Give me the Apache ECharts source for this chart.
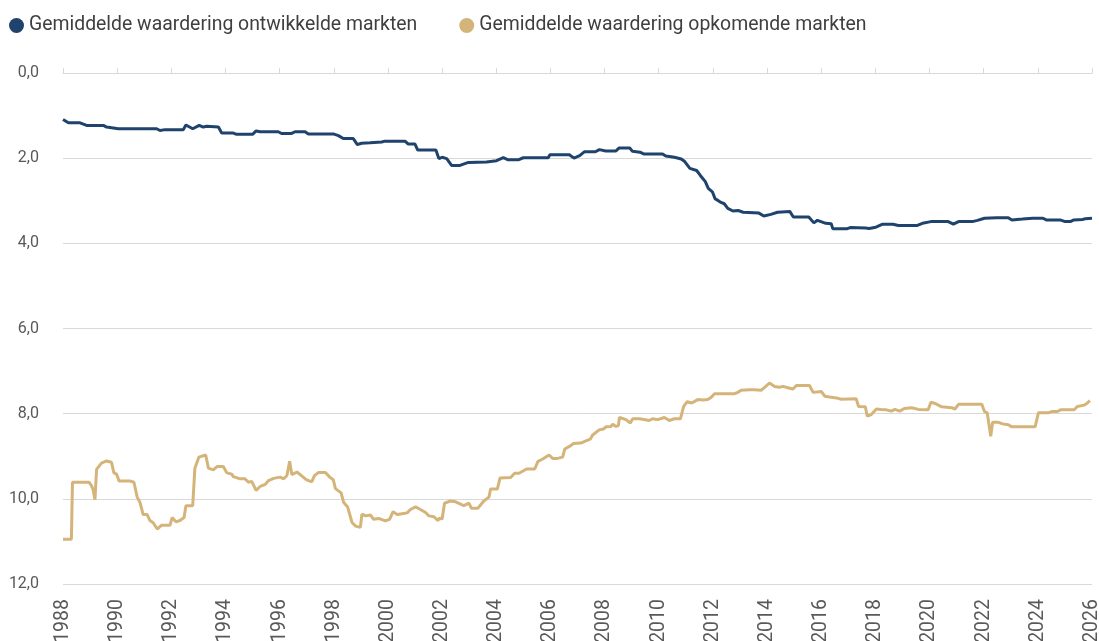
<!DOCTYPE html>
<html>
<head>
<meta charset="utf-8">
<script src="https://cdn.jsdelivr.net/npm/echarts@6/dist/echarts.min.js"></script>
<style>
  html, body { margin: 0; padding: 0; background: #fff; }
  #chart { width: 1099px; height: 641px; }
</style>
</head>
<body>
<div id="chart"></div>
<script>
const seriesNames = ['Gemiddelde waardering ontwikkelde markten', 'Gemiddelde waardering opkomende markten'];
const yTicks = [0, 2, 4, 6, 8, 10, 12];
const xTickYears = [1988, 1990, 1992, 1994, 1996, 1998, 2000, 2002, 2004, 2006, 2008, 2010, 2012, 2014, 2016, 2018, 2020, 2022, 2024, 2026];

const devYears = [1988.00,1988.20,1988.63,1988.87,1989.49,1989.61,1990.04,1991.46,1991.58,1991.77,1992.44,1992.54,1992.79,1993.03,1993.18,1993.31,1993.74,1993.86,1994.29,1994.41,1995.00,1995.13,1995.28,1995.95,1996.07,1996.44,1996.57,1996.94,1997.06,1997.98,1998.17,1998.35,1998.72,1998.87,1999.03,1999.34,1999.77,1999.89,2000.63,2000.75,2001.00,2001.10,2001.77,2001.88,2002.00,2002.17,2002.35,2002.66,2002.97,2003.64,2004.01,2004.26,2004.44,2004.81,2005.00,2005.92,2005.98,2006.38,2006.70,2006.87,2007.08,2007.25,2007.66,2007.81,2008.04,2008.42,2008.54,2008.93,2009.03,2009.31,2009.44,2009.94,2010.14,2010.26,2010.58,2010.83,2010.96,2011.15,2011.40,2011.53,2011.72,2011.83,2011.98,2012.08,2012.30,2012.42,2012.55,2012.74,2012.93,2013.12,2013.70,2013.88,2014.14,2014.39,2014.84,2014.97,2015.54,2015.73,2015.86,2016.17,2016.37,2016.43,2016.94,2017.07,2017.64,2017.77,2018.02,2018.27,2018.65,2018.85,2019.55,2019.74,2020.05,2020.69,2020.88,2021.07,2021.58,2021.77,2022.03,2022.47,2022.91,2023.04,2023.43,2023.81,2024.19,2024.31,2024.82,2025.01,2025.20,2025.33,2025.65,2025.71,2025.76,2026.00];
const devValues = [1.09,1.17,1.17,1.23,1.23,1.27,1.31,1.31,1.35,1.33,1.33,1.22,1.31,1.23,1.27,1.25,1.27,1.41,1.41,1.44,1.44,1.36,1.38,1.38,1.42,1.42,1.38,1.38,1.43,1.43,1.47,1.54,1.54,1.68,1.65,1.64,1.62,1.60,1.60,1.67,1.67,1.81,1.81,2.01,1.98,2.01,2.17,2.17,2.10,2.09,2.06,1.99,2.04,2.04,1.99,1.99,1.92,1.92,1.92,2.00,1.94,1.85,1.85,1.80,1.83,1.83,1.76,1.76,1.84,1.86,1.90,1.90,1.90,1.95,1.98,2.02,2.08,2.24,2.29,2.40,2.55,2.71,2.79,2.95,3.04,3.07,3.18,3.24,3.23,3.27,3.29,3.36,3.32,3.27,3.25,3.38,3.38,3.52,3.46,3.53,3.54,3.66,3.66,3.63,3.64,3.65,3.62,3.55,3.55,3.58,3.58,3.53,3.49,3.49,3.55,3.49,3.49,3.46,3.41,3.40,3.40,3.45,3.43,3.41,3.41,3.45,3.45,3.49,3.49,3.45,3.44,3.48,3.42,3.41];

const emYears = [1988.00,1988.31,1988.35,1988.96,1989.05,1989.11,1989.18,1989.24,1989.42,1989.61,1989.79,1989.88,1989.98,1990.07,1990.47,1990.62,1990.74,1990.84,1990.96,1991.11,1991.21,1991.33,1991.48,1991.64,1991.95,1992.03,1992.17,1992.32,1992.47,1992.54,1992.79,1992.87,1993.02,1993.27,1993.37,1993.55,1993.70,1993.92,1994.05,1994.23,1994.29,1994.54,1994.72,1994.85,1994.97,1995.13,1995.28,1995.47,1995.59,1995.78,1996.02,1996.15,1996.27,1996.37,1996.45,1996.64,1996.76,1996.98,1997.19,1997.28,1997.44,1997.69,1997.85,1997.98,1998.06,1998.27,1998.36,1998.51,1998.67,1998.80,1998.98,1999.04,1999.17,1999.35,1999.47,1999.66,1999.90,2000.06,2000.19,2000.34,2000.52,2000.71,2000.83,2001.02,2001.20,2001.39,2001.51,2001.70,2001.84,2001.91,2002.00,2002.09,2002.31,2002.50,2002.80,2002.99,2003.08,2003.32,2003.54,2003.73,2003.79,2004.04,2004.14,2004.53,2004.68,2004.84,2005.12,2005.42,2005.54,2005.70,2005.95,2006.08,2006.26,2006.45,2006.53,2006.75,2006.85,2007.12,2007.31,2007.47,2007.56,2007.80,2007.96,2008.05,2008.23,2008.30,2008.42,2008.51,2008.55,2008.79,2008.95,2009.04,2009.29,2009.65,2009.77,2009.96,2010.21,2010.39,2010.58,2010.80,2010.92,2011.05,2011.22,2011.44,2011.63,2011.81,2011.93,2012.06,2012.80,2012.92,2013.04,2013.35,2013.41,2013.53,2013.78,2013.90,2014.09,2014.28,2014.46,2014.59,2014.77,2014.96,2015.08,2015.57,2015.70,2016.01,2016.13,2016.31,2016.62,2016.74,2017.29,2017.38,2017.63,2017.70,2017.85,2018.04,2018.22,2018.41,2018.59,2018.72,2018.90,2019.07,2019.34,2019.59,2019.95,2020.05,2020.20,2020.45,2020.82,2020.94,2021.07,2021.93,2022.03,2022.13,2022.26,2022.33,2022.52,2022.70,2022.91,2023.04,2023.90,2024.02,2024.39,2024.51,2024.72,2024.84,2025.34,2025.46,2025.71,2025.83,2025.92];
const emValues = [10.95,10.95,9.61,9.61,9.69,9.78,10.02,9.31,9.16,9.11,9.14,9.39,9.42,9.58,9.58,9.61,9.96,10.08,10.37,10.37,10.51,10.56,10.71,10.62,10.62,10.44,10.54,10.51,10.44,10.16,10.16,9.28,9.02,8.97,9.28,9.32,9.24,9.24,9.39,9.42,9.48,9.53,9.53,9.61,9.59,9.80,9.71,9.66,9.57,9.52,9.49,9.53,9.45,9.12,9.43,9.37,9.43,9.55,9.60,9.46,9.38,9.38,9.49,9.55,9.76,9.86,10.08,10.19,10.55,10.64,10.67,10.36,10.40,10.38,10.48,10.46,10.52,10.48,10.30,10.37,10.35,10.33,10.25,10.19,10.25,10.32,10.40,10.42,10.51,10.45,10.48,10.10,10.05,10.07,10.16,10.10,10.22,10.22,10.05,9.96,9.77,9.77,9.51,9.50,9.40,9.40,9.30,9.30,9.12,9.07,8.97,9.05,9.05,9.02,8.83,8.75,8.70,8.69,8.64,8.60,8.50,8.38,8.36,8.31,8.30,8.25,8.30,8.28,8.09,8.14,8.22,8.12,8.12,8.16,8.12,8.14,8.09,8.16,8.12,8.12,7.83,7.72,7.75,7.67,7.68,7.67,7.62,7.53,7.53,7.50,7.45,7.44,7.41,7.44,7.45,7.39,7.28,7.36,7.38,7.36,7.39,7.42,7.34,7.34,7.50,7.48,7.59,7.61,7.64,7.66,7.65,7.83,7.84,8.06,8.02,7.89,7.90,7.91,7.94,7.90,7.94,7.88,7.86,7.90,7.91,7.73,7.76,7.84,7.86,7.89,7.78,7.78,7.95,7.98,8.53,8.20,8.20,8.24,8.26,8.31,8.31,7.98,7.98,7.95,7.95,7.91,7.91,7.83,7.80,7.75,7.69];

const FONT = "Roboto, 'Noto Sans', sans-serif";
const BLUE = '#1f436c';
const TAN = '#d5b47a';

const zip = (xs, ys) => xs.map((x, i) => [x, ys[i]]);

const chart = echarts.init(document.getElementById('chart'), null, { renderer: 'canvas' });
chart.setOption({
  animation: false,
  backgroundColor: '#ffffff',
  color: [BLUE, TAN],
  legend: {
    left: 4,
    top: 11,
    padding: [5, 5, 5, 5],
    itemWidth: 15,
    itemHeight: 15,
    itemGap: 42,
    icon: 'circle',
    textStyle: { fontFamily: FONT, fontSize: 19.4, color: '#3f3f3f' },
    data: seriesNames
  },
  grid: { left: 63, right: 7, top: 73, bottom: 57, containLabel: false, outerBoundsMode: 'none' },
  xAxis: [
    {
      type: 'value', position: 'bottom', min: xTickYears[0], max: xTickYears[xTickYears.length - 1], interval: 2,
      axisLine: { show: false }, axisTick: { show: false }, splitLine: { show: false },
      axisLabel: { rotate: 90, margin: 15, fontFamily: FONT, fontSize: 19.5, color: '#595959', formatter: v => String(v) }
    },
    {
      type: 'value', position: 'top', min: xTickYears[0], max: xTickYears[xTickYears.length - 1], interval: 2,
      axisLine: { show: true, onZero: false, lineStyle: { color: '#d9d9d9', width: 1 } },
      axisTick: { show: true, length: 5, lineStyle: { color: '#d9d9d9' } },
      axisLabel: { show: false }, splitLine: { show: false }
    }
  ],
  yAxis: {
    type: 'value', inverse: true, min: yTicks[0], max: yTicks[yTicks.length - 1], interval: 2,
    axisLine: { show: false }, axisTick: { show: false },
    splitLine: { show: true, lineStyle: { color: '#d9d9d9', width: 1 } },
    axisLabel: { margin: 24, fontFamily: FONT, fontSize: 16, color: '#595959', formatter: v => v.toFixed(1).replace('.', ',') }
  },
  series: [
    { name: seriesNames[0], type: 'line', data: zip(devYears, devValues), showSymbol: false, symbol: 'none',
      lineStyle: { color: BLUE, width: 3 }, itemStyle: { color: BLUE } },
    { name: seriesNames[1], type: 'line', data: zip(emYears, emValues), showSymbol: false, symbol: 'none',
      lineStyle: { color: TAN, width: 3 }, itemStyle: { color: TAN } }
  ]
});
</script>
</body>
</html>
